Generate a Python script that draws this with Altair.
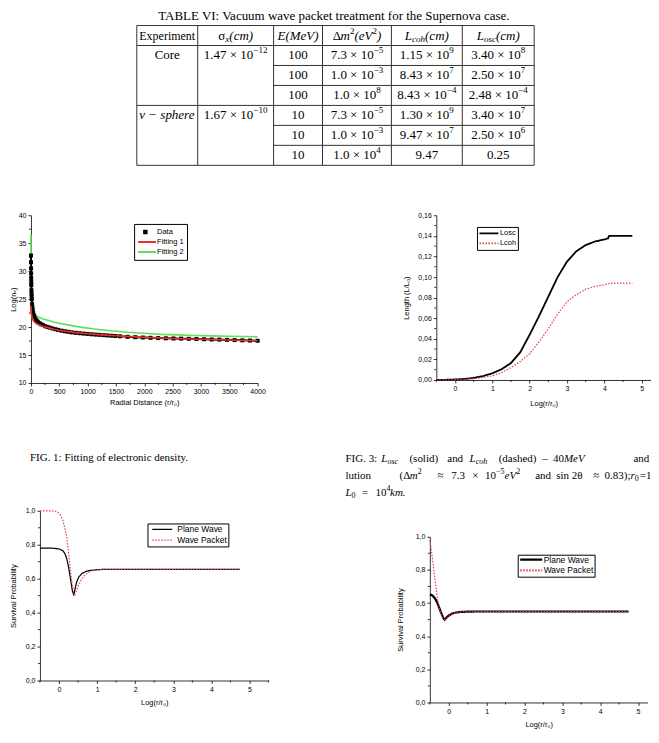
import altair as alt
import pandas as pd

# ------------------------------------------------------------------ data
table_caption = "TABLE VI: Vacuum wave packet treatment for the Supernova case."
experiments = ["Core", "ν − sphere"]
sigma_x = ["1.47 × 10^−12", "1.67 × 10^−10"]
energy_mev = ["100", "100", "100", "10", "10", "10"]
delta_m2 = ["7.3 × 10^−5", "1.0 × 10^−3", "1.0 × 10^8", "7.3 × 10^−5", "1.0 × 10^−3", "1.0 × 10^4"]
l_coh = ["1.15 × 10^9", "8.43 × 10^7", "8.43 × 10^−4", "1.30 × 10^9", "9.47 × 10^7", "9.47"]
l_osc = ["3.40 × 10^8", "2.50 × 10^7", "2.48 × 10^−4", "3.40 × 10^7", "2.50 × 10^6", "0.25"]

# FIG. 1 electronic density
fig1_data_x = [0, 1, 2, 3, 4, 5, 6, 8, 10, 12, 15, 20, 25, 30, 40, 50, 60, 80, 100, 120, 150, 180,
               210, 250, 290, 330, 380, 430, 480, 540, 600, 660, 720, 790, 860, 930, 1000, 1070,
               1140, 1210, 1280, 1350, 1420, 1490, 1570, 1705, 1840, 1975, 2110, 2245, 2380, 2515,
               2650, 2785, 2920, 3055, 3190, 3325, 3460, 3595, 3730, 3865, 4000]
fig1_data_y = [32.8, 31.6, 30.5, 29.6, 28.8, 28.1, 27.5, 26.6, 26.0, 25.5, 25.0, 24.1, 23.5, 23.1,
               22.5, 22.1, 21.85, 21.45, 21.15, 20.95, 20.7, 20.5, 20.35, 20.15, 20.02, 19.9, 19.75,
               19.62, 19.5, 19.35, 19.25, 19.15, 19.05, 18.97, 18.9, 18.83, 18.77, 18.71, 18.65,
               18.6, 18.55, 18.5, 18.45, 18.4, 18.35, 18.26, 18.19, 18.13, 18.08, 18.03, 17.99,
               17.96, 17.93, 17.9, 17.87, 17.82, 17.78, 17.75, 17.71, 17.67, 17.63, 17.59, 17.55]
fig1_fit1_x = [0, 2, 5, 10, 20, 35, 50, 75, 100, 150, 200, 300, 400, 500, 750, 1000, 1250, 1500,
               2000, 2500, 3000, 3500, 4000]
fig1_fit1_y = [23.8, 23.2, 22.7, 22.2, 21.7, 21.3, 21.05, 20.8, 20.6, 20.35, 20.15, 19.9, 19.62,
               19.42, 19.05, 18.8, 18.6, 18.45, 18.15, 17.95, 17.82, 17.68, 17.55]
fig1_fit2_x = [0, 1, 2, 4, 7, 10, 15, 25, 40, 60, 100, 150, 200, 300, 400, 535, 700, 900, 1123,
               1400, 1711, 2000, 2299, 2600, 2887, 3200, 3500, 4000]
fig1_fit2_y = [36.5, 33.0, 30.5, 27.8, 26.0, 25.0, 24.0, 23.3, 22.8, 22.4, 21.95, 21.7, 21.5, 21.2,
               20.9, 20.6, 20.3, 19.95, 19.65, 19.35, 19.07, 18.88, 18.7, 18.6, 18.5, 18.43, 18.37,
               18.25]

# FIG. 3 lengths
fig3_losc_x = [-0.5, -0.25, 0, 0.25, 0.5, 0.75, 1.0, 1.25, 1.5, 1.75, 2.0, 2.25, 2.5, 2.75, 3.0,
               3.25, 3.5, 3.75, 4.0, 4.1, 4.12, 4.3, 4.75]
fig3_losc_y = [0.0, 0.0002, 0.0005, 0.001, 0.002, 0.0038, 0.0065, 0.0105, 0.0165, 0.027, 0.044,
               0.062, 0.081, 0.1, 0.115, 0.125, 0.131, 0.1345, 0.1365, 0.1375, 0.1398, 0.14, 0.14]
fig3_lcoh_x = [-0.5, 0, 0.5, 1.0, 1.25, 1.5, 1.75, 2.0, 2.25, 2.5, 2.75, 3.0, 3.25, 3.5, 3.75, 4.0,
               4.15, 4.75]
fig3_lcoh_y = [0.0, 0.0003, 0.0012, 0.004, 0.0072, 0.012, 0.018, 0.0255, 0.037, 0.05, 0.064, 0.076,
               0.083, 0.088, 0.091, 0.0925, 0.094, 0.094]

# FIG. 4 survival probability
fig4_pw_x = [-0.5, -0.2, -0.1, 0.0, 0.1, 0.15, 0.2, 0.25, 0.3, 0.35, 0.39, 0.43, 0.47, 0.52, 0.6,
             0.7, 0.8, 1.0, 1.2, 4.75]
fig4_pw_y = [0.78, 0.78, 0.778, 0.775, 0.765, 0.75, 0.72, 0.67, 0.6, 0.53, 0.5, 0.55, 0.585, 0.61,
             0.63, 0.642, 0.648, 0.653, 0.655, 0.655]
fig4_wp_x = [-0.5, -0.2, -0.1, 0.0, 0.05, 0.1, 0.15, 0.2, 0.25, 0.3, 0.35, 0.4, 0.45, 0.5, 0.6,
             0.7, 0.8, 0.9, 1.0, 1.15, 4.75]
fig4_wp_y = [1.0, 1.0, 0.997, 0.985, 0.97, 0.945, 0.9, 0.85, 0.755, 0.65, 0.56, 0.5, 0.525, 0.555,
             0.6, 0.625, 0.64, 0.648, 0.652, 0.655, 0.655]

# FIG. 5 survival probability
fig5_pw_x = [-0.5, -0.45, -0.4, -0.35, -0.3, -0.25, -0.2, -0.15, -0.11, -0.05, 0.0, 0.1, 0.2, 0.3,
             0.5, 0.7, 4.75]
fig5_pw_y = [0.651, 0.648, 0.638, 0.622, 0.6, 0.57, 0.54, 0.512, 0.5, 0.515, 0.525, 0.537, 0.543,
             0.546, 0.548, 0.549, 0.549]
fig5_wp_x = [-0.5, -0.45, -0.4, -0.35, -0.3, -0.25, -0.2, -0.15, -0.1, -0.05, 0.0, 0.1, 0.2, 0.4,
             0.6, 4.75]
fig5_wp_y = [0.98, 0.9, 0.81, 0.72, 0.625, 0.57, 0.535, 0.51, 0.5, 0.51, 0.52, 0.535, 0.543, 0.548,
             0.549, 0.549]

# ------------------------------------------------------------------ layout / style
SANS = "Liberation Sans"
SERIF = "Liberation Serif"
OFF = 8
W = 643
TABLE_H = 203
CAP_H = 99
SPACER_H = 22
ROW1_GAP = 136
ROW2_GAP = 126.5
COL_EDGES = [137, 198, 274, 323, 392, 463, 535]
ROW_TOP, ROW_STEP = 17, 20
CAP_LINE_Y = [50, 51, 68, 85]
CAP3_LEFT, CAP3_SQUEEZE = 346, 0.971
RED_FIT = "#e8312b"
GREEN_FIT = "#60e05a"
RED_DOT = "#e8404a"
IND = dict(color="independent", strokeDash="independent", shape="independent")

# text kinds: font size, style, vertical shift
KINDS = {
    "t_n": (13, "normal", 0), "t_n12": (12, "normal", 0), "t_i": (13, "italic", 0),
    "t_sup": (9, "normal", -5), "t_isub": (9, "italic", 3),
    "c_n": (11, "normal", 0), "c_i": (11, "italic", 0), "c_sup": (8, "normal", -4),
    "c_isub": (8, "italic", 3), "c_sub": (8, "normal", 3),
}
TR = {' ': 250, '.': 250, ',': 250, ':': 278, ';': 278, '(': 333, ')': 333, '×': 564, '−': 564,
      '–': 500, '=': 564, '≈': 549, 'a': 444, 'b': 500, 'c': 444, 'd': 500, 'e': 444, 'f': 333,
      'g': 500, 'h': 500, 'i': 278, 'k': 500, 'l': 278, 'm': 778, 'n': 500, 'o': 500, 'p': 500,
      'r': 333, 's': 389, 't': 278, 'u': 500, 'v': 500, 'w': 722, 'x': 500, 'y': 500, 'A': 722,
      'B': 667, 'C': 667, 'E': 611, 'F': 556, 'G': 722, 'I': 333, 'L': 611, 'S': 556, 'T': 611,
      'V': 722, 'Δ': 612, 'σ': 549, 'θ': 521, 'ν': 500}
TI = {' ': 250, '.': 250, '(': 333, ')': 333, '−': 675, 'a': 500, 'c': 444, 'e': 444, 'h': 500,
      'i': 278, 'k': 444, 'm': 722, 'n': 500, 'o': 500, 'p': 500, 'r': 389, 's': 389, 'x': 444,
      'E': 611, 'L': 556, 'M': 833, 'V': 611, 'ν': 460}


def tw(text, kind):
    size, style, _ = KINDS[kind]
    table = TI if style == "italic" else TR
    return sum(table.get(ch, 500) for ch in text) * size / 1000


def emit(segs, x_left, y, rows):
    x = x_left
    for text, kind in segs:
        rows.append(dict(x=x, y=y, text=text, k=kind))
        x += tw(text, kind)


def emit_center(segs, xc, y, rows):
    total = sum(tw(t, k) for t, k in segs)
    emit(segs, xc - total / 2, y, rows)


def num_segs(s):
    if "^" in s:
        base, ex = s.split("^")
        return [(base, "t_n"), (ex, "t_sup")]
    return [(s, "t_n")]


def lx():
    return alt.X("x:Q", scale=alt.Scale(domain=[0, W], nice=False, zero=False), axis=None)


def ly(h):
    return alt.Y("y:Q", scale=alt.Scale(domain=[0, h], nice=False, zero=False, reverse=True), axis=None)


def text_layers(df, h, clip=False):
    layers = []
    for k in sorted(set(df["k"])):
        size, style, dy = KINDS[k]
        layers.append(alt.Chart(df).transform_filter(alt.datum.k == k).mark_text(
            font=SERIF, color="black", baseline="middle", align="left", fontSize=size,
            fontStyle=style, dy=dy, clip=clip).encode(lx(), ly(h), text="text:N"))
    return layers


# ------------------------------------------------------------------ table chart
cols = [e - OFF for e in COL_EDGES]
lines_y = [ROW_TOP + ROW_STEP * i for i in range(8)]
centers = [(cols[i] + cols[i + 1]) / 2 for i in range(6)]
row_c = [(lines_y[i] + lines_y[i + 1]) / 2 for i in range(7)]
rows = []
emit_center([(table_caption, "t_n")], (cols[0] + cols[-1]) / 2, 7, rows)
header = [
    [("Experiment", "t_n12")],
    [("σ", "t_n"), ("x", "t_isub"), ("(cm)", "t_i")],
    [("E(MeV)", "t_i")],
    [("Δ", "t_n"), ("m", "t_i"), ("2", "t_sup"), ("(eV", "t_i"), ("2", "t_sup"), (")", "t_i")],
    [("L", "t_i"), ("coh", "t_isub"), ("(cm)", "t_i")],
    [("L", "t_i"), ("osc", "t_isub"), ("(cm)", "t_i")],
]
for c, segs in enumerate(header):
    emit_center(segs, centers[c], row_c[0], rows)
emit_center([(experiments[0], "t_n")], centers[0], row_c[1], rows)
emit_center([(experiments[1], "t_i")], centers[0], row_c[4], rows)
emit_center(num_segs(sigma_x[0]), centers[1], row_c[1], rows)
emit_center(num_segs(sigma_x[1]), centers[1], row_c[4], rows)
for r in range(6):
    for c, vals in ((2, energy_mev), (3, delta_m2), (4, l_coh), (5, l_osc)):
        emit_center(num_segs(vals[r]), centers[c], row_c[r + 1], rows)
table_df = pd.DataFrame(rows)

hl = []
for i, y in enumerate(lines_y):
    start = cols[2] if i in (2, 3, 5, 6) else cols[0]
    hl.append(dict(x=start, x2=cols[-1], y=y))
vl = [dict(x=e, y=lines_y[0], y2=lines_y[-1]) for e in cols]

table_chart = alt.layer(
    alt.Chart(pd.DataFrame(hl)).mark_rule(color="#333", strokeWidth=1).encode(
        lx(), ly(TABLE_H), x2="x2:Q"),
    alt.Chart(pd.DataFrame(vl)).mark_rule(color="#333", strokeWidth=1).encode(
        lx(), ly(TABLE_H), y2="y2:Q"),
    *text_layers(table_df, TABLE_H),
).properties(width=W, height=TABLE_H)

# ------------------------------------------------------------------ captions chart
cap_items = [
    ([("FIG. 1: Fitting of electronic density.", "c_n")], 30, 0),
    ([("FIG. 3:", "c_n")], 346, 1),
    ([("L", "c_i"), ("osc", "c_isub")], 383, 1),
    ([("(solid)", "c_n")], 412, 1),
    ([("and", "c_n")], 451, 1),
    ([("L", "c_i"), ("coh", "c_isub")], 474, 1),
    ([("(dashed)", "c_n")], 504, 1),
    ([("–", "c_n")], 549, 1),
    ([("40", "c_n"), ("MeV", "c_i")], 560, 1),
    ([("and", "c_n")], 643, 1),
    ([("lution", "c_n")], 346, 2),
    ([("(Δ", "c_n"), ("m", "c_i"), ("2", "c_sup")], 401.7, 2),
    ([("≈", "c_n")], 441, 2),
    ([("7.3", "c_n")], 455, 2),
    ([("×", "c_n")], 476.7, 2),
    ([("10", "c_n"), ("−5", "c_sup"), ("eV", "c_i"), ("2", "c_sup")], 490, 2),
    ([("and", "c_n")], 541.7, 2),
    ([("sin 2θ", "c_n")], 563.3, 2),
    ([("≈", "c_n")], 601.7, 2),
    ([("0.83);", "c_n"), ("r", "c_i"), ("0", "c_sub")], 613.3, 2),
    ([("=", "c_n")], 649.5, 2),
    ([("1", "c_n")], 656, 2),
    ([("L", "c_i"), ("0", "c_sub")], 346, 3),
    ([("=", "c_n")], 363, 3),
    ([("10", "c_n"), ("4", "c_sup")], 377, 3),
    ([("km.", "c_i")], 392, 3),
]
cap_rows = []
for segs, px, ln in cap_items:
    if ln > 0:
        px = CAP3_LEFT + (px - CAP3_LEFT) * CAP3_SQUEEZE
    emit(segs, px - OFF, CAP_LINE_Y[ln], cap_rows)
cap_df = pd.DataFrame(cap_rows)
cap_chart = alt.layer(*text_layers(cap_df, CAP_H, clip=True)).properties(width=W, height=CAP_H)


# ------------------------------------------------------------------ plot helpers
def comma(d):
    return f"replace(format(datum.value, '.{d}f'), '.', ',')"


def ax_x(dom, vals, title, expr, tp, lfs=7, tfs=7.5):
    return alt.X("x:Q", scale=alt.Scale(domain=dom, nice=False, zero=False),
                 axis=alt.Axis(values=vals, title=title, labelExpr=expr, titlePadding=tp,
                               tickSize=3, labelPadding=2, labelFontSize=lfs, titleFontSize=tfs))


def ax_y(dom, vals, title, expr, tp, lfs=7, tfs=7.5):
    return alt.Y("y:Q", scale=alt.Scale(domain=dom, nice=False, zero=False),
                 axis=alt.Axis(values=vals, title=title, labelExpr=expr, titlePadding=tp,
                               tickSize=3, labelPadding=2, labelFontSize=lfs, titleFontSize=tfs))


def minor_x(vals, X, h):
    return alt.Chart(pd.DataFrame({"x": vals})).mark_rule(color="black", strokeWidth=0.8).encode(
        x=X, y=alt.value(h), y2=alt.value(h + 2))


def minor_y(vals, Y):
    return alt.Chart(pd.DataFrame({"y": vals})).mark_rule(color="black", strokeWidth=0.8).encode(
        y=Y, x=alt.value(0), x2=alt.value(-2))


def two_series(xa, ya, na, xb, yb, nb):
    return (pd.DataFrame({"x": xa, "y": ya, "series": na}),
            pd.DataFrame({"x": xb, "y": yb, "series": nb}))


def line_pair(dfa, dfb, X, Y, dom, wa, wb, leg):
    col = alt.Color("series:N", scale=alt.Scale(domain=dom, range=["black", RED_DOT]), legend=leg)
    dash = alt.StrokeDash("series:N", scale=alt.Scale(domain=dom, range=[[1, 0], [1.5, 1.5]]),
                          legend=leg)
    la = alt.Chart(dfa).mark_line(strokeWidth=wa).encode(X, Y, color=col, strokeDash=dash)
    lb = alt.Chart(dfb).mark_line(strokeWidth=wb).encode(X, Y, color=col, strokeDash=dash)
    return la, lb


def pair_legend(lxp, lyp, pad, ch, rp, ss, sw, so, lo, lfs):
    return alt.Legend(title=None, orient="none", legendX=lxp, legendY=lyp, padding=pad,
                      strokeColor="black", clipHeight=ch, rowPadding=rp, symbolType="stroke",
                      symbolSize=ss, symbolStrokeWidth=sw, symbolOffset=so, labelOffset=lo,
                      labelFontSize=lfs, labelFont=SANS, labelColor="black")


# ------------------------------------------------------------------ FIG. 1
F1_W, F1_H = 227, 168
X1 = ax_x([0, 4000], list(range(0, 4001, 500)), "Radial Distance (r/r₀)",
          "format(datum.value, 'd')", 3.5)
Y1 = ax_y([10, 40], list(range(10, 41, 5)), "Log(nₑ)", "format(datum.value, 'd')", 1)
f1_dom = ["Data", "Fitting 1", "Fitting 2"]
LX1, LY1 = 103.3, 8.7
col1 = alt.Color("series:N", scale=alt.Scale(domain=f1_dom, range=["transparent", RED_FIT, GREEN_FIT]),
                 legend=alt.Legend(title=None, orient="none", legendX=LX1, legendY=LY1, padding=3,
                                   strokeColor="black", clipHeight=10, rowPadding=0,
                                   symbolType="stroke", symbolSize=324, symbolStrokeWidth=2,
                                   symbolOffset=0, labelOffset=0, labelFontSize=7.5,
                                   labelFont=SANS, labelColor="black"))
df_data = pd.DataFrame({"x": fig1_data_x, "y": fig1_data_y, "series": "Data"})
df_f1 = pd.DataFrame({"x": fig1_fit1_x, "y": fig1_fit1_y, "series": "Fitting 1"})
df_f2 = pd.DataFrame({"x": fig1_fit2_x, "y": fig1_fit2_y, "series": "Fitting 2"})
fig1 = alt.layer(
    alt.Chart(df_f2).mark_line(strokeWidth=1.6).encode(X1, Y1, color=col1),
    alt.Chart(df_data).mark_line(strokeWidth=2, color="black").encode(X1, Y1),
    alt.Chart(df_data).mark_point(filled=True, color="black", opacity=1).encode(
        X1, Y1,
        shape=alt.Shape("series:N", scale=alt.Scale(domain=["Data"], range=["square"]),
                        legend=alt.Legend(title=None, orient="none", legendX=LX1 + 7.5,
                                          legendY=LY1 + 3, padding=0, clipHeight=10,
                                          symbolSize=20, symbolFillColor="black",
                                          symbolStrokeColor="black", symbolStrokeWidth=0,
                                          labelExpr="''", labelFontSize=7.5)),
        size=alt.value(16)),
    alt.Chart(df_f1).mark_line(strokeWidth=1.6).encode(X1, Y1, color=col1),
    minor_x(list(range(250, 4000, 500)), X1, F1_H),
    minor_y([12.5, 17.5, 22.5, 27.5, 32.5, 37.5], Y1),
).properties(width=F1_W, height=F1_H)

# ------------------------------------------------------------------ FIG. 3
LOG_DOM = [-0.5, 5.25]
X_LOG = lambda tp, lfs=7: ax_x(LOG_DOM, [0, 1, 2, 3, 4, 5], "Log(r/r₀)",
                               "format(datum.value, 'd')", tp, lfs)
HALF = [-0.5, 0.5, 1.5, 2.5, 3.5, 4.5]
F3_W, F3_H = 215, 165
X3 = X_LOG(8)
Y3 = ax_y([0, 0.16], [0, 0.02, 0.04, 0.06, 0.08, 0.1, 0.12, 0.14, 0.16], "Length (L/L₀)",
          comma(2), 7.5)
d3a, d3b = two_series(fig3_losc_x, fig3_losc_y, "Losc", fig3_lcoh_x, fig3_lcoh_y, "Lcoh")
l3a, l3b = line_pair(d3a, d3b, X3, Y3, ["Losc", "Lcoh"], 1.8, 1.2,
                     pair_legend(40.7, 11.7, 1.5, 10, 0, 361, 1.6, 0, 0.5, 7.5))
fig3 = alt.layer(
    l3a, l3b,
    minor_x(HALF, X3, F3_H),
    minor_y([0.01, 0.03, 0.05, 0.07, 0.09, 0.11, 0.13, 0.15], Y3),
).properties(width=F3_W, height=F3_H)

# ------------------------------------------------------------------ FIG. 4
F4_W, F4_H = 229, 170
X4 = ax_x([-0.5, 5.5], [0, 1, 2, 3, 4, 5], "Log(r/r₀)", "format(datum.value, 'd')", 6)
Y4 = ax_y([0, 1], [0, 0.2, 0.4, 0.6, 0.8, 1.0], "Survival Probability", comma(1), 7.5)
d4a, d4b = two_series(fig4_pw_x, fig4_pw_y, "Plane Wave", fig4_wp_x, fig4_wp_y, "Wave Packet")
l4a, l4b = line_pair(d4a, d4b, X4, Y4, ["Plane Wave", "Wave Packet"], 1.2, 1.2,
                     pair_legend(107.7, 12.7, 1, 10, 0.6, 400, 1.3, 2.8, 4, 8.5))
fig4 = alt.layer(
    l4a, l4b,
    minor_x(HALF + [5.5], X4, F4_H),
    minor_y([0.1, 0.3, 0.5, 0.7, 0.9], Y4),
).properties(width=F4_W, height=F4_H)

# ------------------------------------------------------------------ FIG. 5
F5_W, F5_H = 218, 166
X5 = X_LOG(6)
Y5 = ax_y([0, 1], [0, 0.2, 0.4, 0.6, 0.8, 1.0], "Survival Probability", comma(1), 10.5)
d5a, d5b = two_series(fig5_pw_x, fig5_pw_y, "Plane Wave", fig5_wp_x, fig5_wp_y, "Wave Packet")
l5a, l5b = line_pair(d5a, d5b, X5, Y5, ["Plane Wave", "Wave Packet"], 2.2, 1.2,
                     pair_legend(88, 18, 1, 8, 1.7, 484, 2.2, 0, 0, 8.5))
fig5 = alt.layer(
    l5a, l5b,
    minor_x(HALF, X5, F5_H),
    minor_y([0.1, 0.3, 0.5, 0.7, 0.9], Y5),
).properties(width=F5_W, height=F5_H)


def blank(w, h):
    return alt.Chart(pd.DataFrame({"a": [0]})).mark_point(
        opacity=0, size=0, strokeWidth=0).properties(width=w, height=h)


inner1 = alt.hconcat(fig1, fig3, spacing=ROW1_GAP).resolve_scale(**IND).resolve_legend(**IND)
row1 = alt.hconcat(blank(1, 1), inner1, spacing=0).resolve_scale(**IND).resolve_legend(**IND)
right2 = alt.vconcat(blank(10, SPACER_H), fig5, spacing=0).resolve_scale(**IND).resolve_legend(**IND)
inner2 = alt.hconcat(fig4, right2, spacing=ROW2_GAP).resolve_scale(**IND).resolve_legend(**IND)
row2 = alt.hconcat(blank(1, 1), inner2, spacing=0).resolve_scale(**IND).resolve_legend(**IND)

chart = alt.vconcat(table_chart, row1, cap_chart, row2, spacing=0).resolve_scale(
    **IND).resolve_legend(**IND).properties(
    padding=0
).configure_view(stroke=None).configure_axis(
    labelFont=SANS, titleFont=SANS, titleFontWeight="normal", domainColor="black",
    tickColor="black", labelColor="black", titleColor="black", grid=False, labelFlush=False,
    labelOverlap=False, domainWidth=0.8, tickWidth=0.8
).configure_legend(labelFont=SANS, labelColor="black")

chart.save("out.html", embed_options={"renderer": "svg", "actions": False})
